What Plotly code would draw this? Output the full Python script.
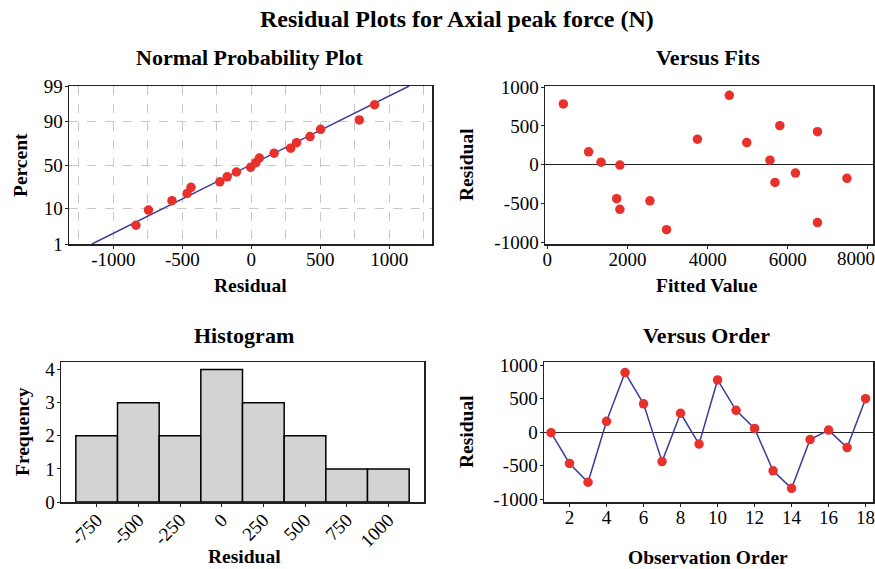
import numpy as np
import plotly.graph_objects as go
from statistics import NormalDist

# ---- data ----
observation_order = list(range(1, 19))
residuals = [-5, -465, -745, 165, 893, 425, -437, 285, -175,
             782, 328, 58, -575, -836, -108, 33, -228, 502]
fitted_values = [1810, 2560, 6740, 1030, 4540, 6740, 1730, 4975, 7475,
                 400, 3745, 5555, 1810, 2975, 6190, 1340, 5680, 5800]
hist_centers = [-750, -500, -250, 0, 250, 500, 750, 1000]
percent_ticks = [1, 10, 50, 90, 99]
npp_xticks = [-1000, -500, 0, 500, 1000]
fits_xticks = [0, 2000, 4000, 6000, 8000]
resid_yticks = [-1000, -500, 0, 500, 1000]
order_xticks = [2, 4, 6, 8, 10, 12, 14, 16, 18]
freq_ticks = [0, 1, 2, 3, 4]

W, H = 875, 569
FONT = "Liberation Serif"
RED = "#e8312b"
NAVY = "#3b3b98"
TICKF = dict(family=FONT, size=19, color="black")

def lab(v):
    return str(v)

nd = NormalDist()
res = np.array(residuals, dtype=float)
n = len(res)
srt = np.sort(res)
pp = (np.arange(1, n + 1) - 0.3) / (n + 0.4)
zq = [nd.inv_cdf(p) for p in pp]
mu, sd = res.mean(), res.std(ddof=1)
zl = [nd.inv_cdf(0.01), nd.inv_cdf(0.99)]
line_x = [mu + sd * z for z in zl]

edges = [c - 125 for c in hist_centers] + [hist_centers[-1] + 125]
counts, _ = np.histogram(res, bins=edges)

fig = go.Figure()

fig.add_trace(go.Scatter(x=line_x, y=zl, mode="lines", line=dict(color=NAVY, width=1.5),
                         xaxis="x", yaxis="y", showlegend=False))
fig.add_trace(go.Scatter(x=srt, y=zq, mode="markers", marker=dict(color=RED, size=9.5),
                         xaxis="x", yaxis="y", showlegend=False))
fig.add_trace(go.Scatter(x=fitted_values, y=residuals, mode="markers",
                         marker=dict(color=RED, size=9.5), xaxis="x2", yaxis="y2", showlegend=False))
fig.add_trace(go.Bar(x=hist_centers, y=counts, width=250,
                     marker=dict(color="#d3d3d3", line=dict(color="black", width=1.5)),
                     xaxis="x3", yaxis="y3", showlegend=False))
fig.add_trace(go.Scatter(x=observation_order, y=residuals, mode="lines+markers",
                         line=dict(color=NAVY, width=1.5), marker=dict(color=RED, size=9.5),
                         xaxis="x4", yaxis="y4", showlegend=False))

def dom_x(a, b):
    return [a / W, b / W]

def dom_y(top, bot):
    return [1 - bot / H, 1 - top / H]

box = dict(showline=True, linecolor="#222222", linewidth=1.5, mirror=True, automargin=False,
           ticks="outside", ticklen=3, tickcolor="#222222", tickfont=TICKF,
           ticklabeloverflow="allow")
xbox = dict(box, ticklabelstandoff=-5)
ybox = dict(box, ticklabelstandoff=-2)

npp_x = dict(xbox, domain=dom_x(69, 432), range=[-1321, 1309], tickvals=npp_xticks,
             ticktext=[lab(v) for v in npp_xticks], showgrid=True, gridcolor="#c8c8c8",
             griddash="dash", zeroline=False,
             minor=dict(dtick=250, tick0=0, showgrid=True, gridcolor="#c8c8c8", griddash="dash", ticks=""),
             anchor="y")
npp_y = dict(ybox, domain=dom_y(86, 244), range=[zl[0], zl[1]],
             tickvals=[nd.inv_cdf(p / 100) for p in percent_ticks],
             ticktext=[str(p) for p in percent_ticks], showgrid=True, gridcolor="#c8c8c8",
             griddash="dash", zeroline=False, anchor="x")

# last fits label is drawn separately, nudged left so it stays inside the page
fits_ticktext = [lab(v) for v in fits_xticks[:-1]] + [""]
fits_x = dict(xbox, domain=dom_x(545, 873), range=[-58, 8125], tickvals=fits_xticks,
              ticktext=fits_ticktext, showgrid=False, zeroline=False, anchor="y2")
fits_y = dict(ybox, domain=dom_y(86, 244), range=[-1021, 1013], tickvals=resid_yticks,
              ticktext=[lab(v) for v in resid_yticks], showgrid=False, zeroline=True,
              zerolinecolor="#222222", zerolinewidth=1.5, anchor="x2")

hist_x = dict(xbox, domain=dom_x(61, 424), range=[-964, 1214], tickvals=hist_centers,
              ticktext=[lab(v) for v in hist_centers], tickangle=-45, showgrid=False,
              zeroline=False, anchor="y3")
hist_y = dict(ybox, domain=dom_y(362, 502), range=[0, 4.23], tickvals=freq_ticks,
              showgrid=False, zeroline=False, anchor="x3")

ord_x = dict(xbox, domain=dom_x(544, 873), range=[0.62, 18.4], tickvals=order_xticks,
             showgrid=False, zeroline=False, anchor="y4")
ord_y = dict(ybox, domain=dom_y(362, 502), range=[-1040, 1050], tickvals=resid_yticks,
             ticktext=[lab(v) for v in resid_yticks], showgrid=False, zeroline=True,
             zerolinecolor="#222222", zerolinewidth=1.5, anchor="x4")

def ann(text, x, y, size, angle=0):
    return dict(text="<b>" + text + "</b>", x=x / W, y=1 - y / H,
                xref="paper", yref="paper",
                showarrow=False, textangle=angle, xanchor="center", yanchor="middle",
                font=dict(family=FONT, size=size, color="black"))

annotations = [
    ann("Residual Plots for Axial peak force (N)", 457, 19, 24),
    ann("Normal Probability Plot", 250, 57, 22),
    ann("Versus Fits", 708, 57, 22),
    ann("Histogram", 244, 335, 22),
    ann("Versus Order", 706, 335, 22),
    ann("Residual", 250, 285, 19.5),
    ann("Percent", 20, 165, 19.5, -90),
    ann("Fitted Value", 707, 285, 19.5),
    ann("Residual", 466, 165, 19.5, -90),
    ann("Residual", 244, 556, 19.5),
    ann("Frequency", 22, 432, 19.5, -90),
    ann("Observation Order", 708, 557, 19.5),
    ann("Residual", 466, 432, 19.5, -90),
    dict(text=lab(fits_xticks[-1]), x=fits_xticks[-1], xref="x2", y=1 - 259 / H, yref="paper",
         xanchor="center", yanchor="middle", xshift=-12, showarrow=False,
         font=TICKF),
]

fig.update_layout(
    width=W, height=H, margin=dict(l=0, r=0, t=0, b=0, autoexpand=False),
    paper_bgcolor="white", plot_bgcolor="white",
    font=dict(family=FONT, color="black"),
    bargap=0,
    xaxis=npp_x, yaxis=npp_y,
    xaxis2=fits_x, yaxis2=fits_y,
    xaxis3=hist_x, yaxis3=hist_y,
    xaxis4=ord_x, yaxis4=ord_y,
    annotations=annotations,
)

fig.write_html("out.html", config={"displayModeBar": False, "staticPlot": True},
               post_script="document.body.style.margin='0';document.body.style.overflow='hidden';")
